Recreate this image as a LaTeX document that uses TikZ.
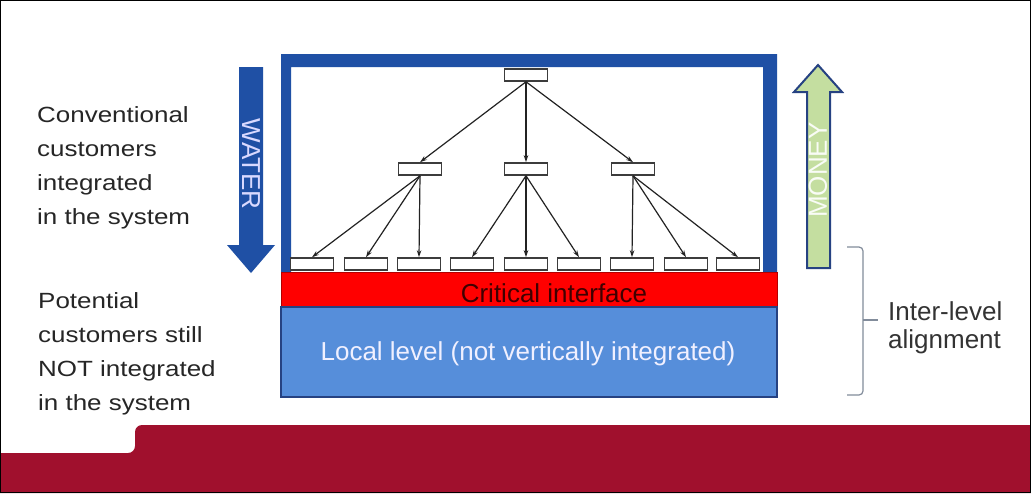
\documentclass[tikz,border=0pt]{standalone}
\usepackage{fontspec}
\setmainfont{Liberation Sans}
\newfontfamily\sidefont[FakeStretch=1.18]{Liberation Sans}
\usetikzlibrary{arrows.meta}

\definecolor{frameblue}{RGB}{31,80,165}
\definecolor{localblue}{RGB}{86,142,218}
\definecolor{edgeblue}{RGB}{38,66,130}
\definecolor{moneygreen}{RGB}{196,222,160}
\definecolor{bandred}{RGB}{160,16,45}
\definecolor{boxgray}{RGB}{60,60,60}
\definecolor{linkgray}{RGB}{35,35,35}
\definecolor{bracegray}{RGB}{130,140,155}

\begin{document}
\begin{tikzpicture}[x=1pt,y=-1pt,
  box/.style={draw=boxgray,fill=white,line width=1.6pt,minimum width=43pt,minimum height=12pt,inner sep=0pt},
  link/.style={draw=linkgray,line width=1.2pt,-{Stealth[length=7pt,width=4.5pt]}},
  biglabel/.style={font=\fontsize{26}{28}\selectfont},
  sidetext/.style={font=\sidefont\fontsize{22}{34}\selectfont,text=black!85,align=left,anchor=north west,inner sep=0pt}]

\useasboundingbox (0,0) rectangle (1031,493);
\fill[white] (0,0) rectangle (1031,493);

% footer band
\fill[bandred] (0,453) [rounded corners=7pt] -- (135,453) -- (135,425) -- (200,425)
  [sharp corners] -- (1031,425) -- (1031,493) -- (0,493) -- cycle;
\draw[black, line width=1.2pt] (0.6,0.6) rectangle (1030.4,492.4);

% system frame and the two levels below it
\fill[frameblue, even odd rule] (281,54) rectangle (777,272) (291,67) rectangle (763,272);
\draw[fill=red, draw=red!70!black, line width=1pt] (281,272) rectangle (777,307);
\draw[fill=localblue, draw=edgeblue, line width=1.5pt] (281,307) rectangle (777,397);

\node(crit)[biglabel, text=red!25!black, anchor=base] at (554,302) {Critical interface};
\node(local)[biglabel, text=blue!6, anchor=base] at (528,360) {Local level (not vertically integrated)};

% hierarchy
\node(top)[box] at (526,75) {};
\node(m1)[box] at (420,169) {};
\node(m2)[box] at (526,169) {};
\node(m3)[box] at (633,169) {};
\foreach \i/\x in {1/312,2/366,3/419,4/472,5/526,6/579,7/632,8/686,9/738}
  \node(b\i)[box] at (\x,264) {};

\foreach \m in {1,2,3}
  \draw[link] (top.south) -- (m\m.north);
\foreach \m/\b in {1/1,1/2,1/3,2/4,2/5,2/6,3/7,3/8,3/9}
  \draw[link] (m\m.south) -- (b\b.north);

% water goes down, money goes up
\fill[frameblue] (239,67) -- (263,67) -- (263,245) -- (275,245) -- (251,273)
  -- (227,245) -- (239,245) -- cycle;
\node(water)[biglabel, text=blue!15, rotate=-90] at (251,164) {WATER};

\draw[fill=moneygreen, draw=edgeblue, line width=2pt, line join=miter] (807,268) -- (830,268)
  -- (830,92) -- (842,92) -- (818,65) -- (794,92) -- (807,92) -- cycle;
\node(money)[biglabel, text=white!90!moneygreen, rotate=90] at (818,170) {MONEY};

% side texts
\node(conv)[sidetext] at (37,106) {Conventional\\customers\\integrated\\in the system};
\node(pot)[sidetext] at (38,292) {Potential\\customers still\\NOT integrated\\in the system};

\draw[bracegray, line width=1.2pt, rounded corners=4pt] (847,247) -- (863,247) -- (863,395) -- (847,395);
\draw[bracegray, line width=1.2pt] (863,320) -- (878,320);
\node(align)[biglabel, text=black!80, align=left, anchor=north west, inner sep=0pt] at (888,301) {Inter-level\\alignment};

\end{tikzpicture}
\end{document}
